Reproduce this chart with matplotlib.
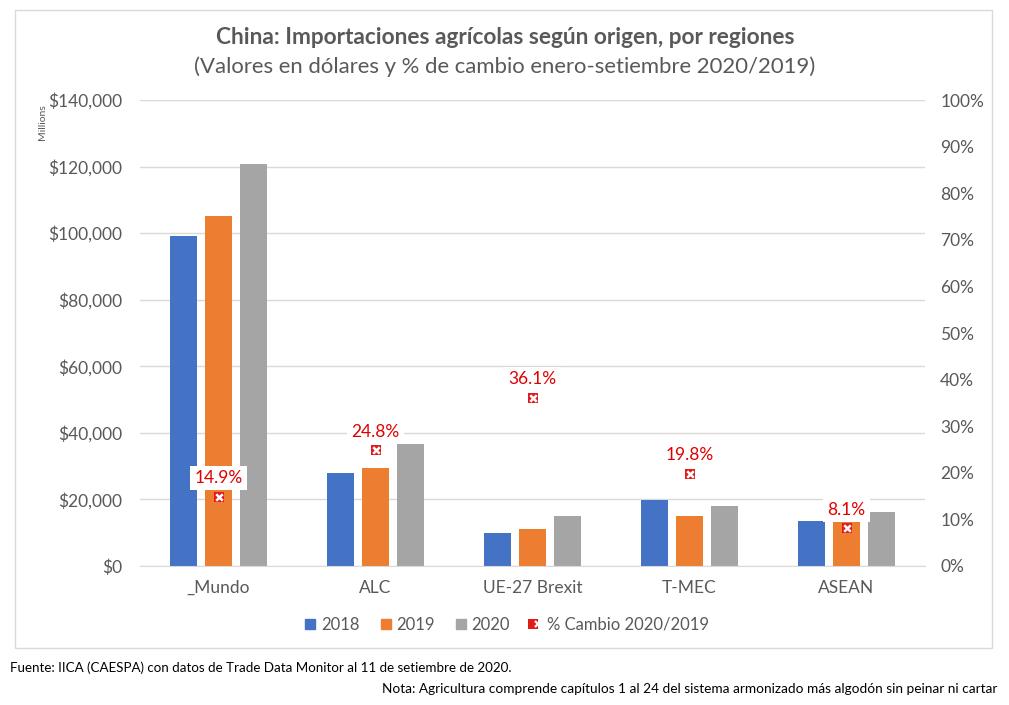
import matplotlib
matplotlib.use("Agg")
import matplotlib.pyplot as plt
import numpy as np
from matplotlib.lines import Line2D
from matplotlib.patches import Rectangle
from matplotlib.ticker import FuncFormatter, MultipleLocator
from matplotlib.legend_handler import HandlerTuple

plt.rcParams['font.family'] = ['Lato', 'DejaVu Sans']

categories = ["_Mundo", "ALC", "UE-27 Brexit", "T-MEC", "ASEAN"]
v2018 = [99200, 27900, 9900, 19800, 13500]
v2019 = [105100, 29300, 11000, 15000, 13500]
v2020 = [120800, 36600, 15000, 18000, 16200]
pct = [14.9, 24.8, 36.1, 19.8, 8.1]
years = ["2018", "2019", "2020"]
colors = ["#4472C4", "#ED7D31", "#A5A5A5"]

fig = plt.figure(figsize=(10.09, 7.05), dpi=100)
W, H = 1009, 705
# outer border
fig.add_artist(Rectangle((15/W, 1-648/H), (992-15)/W, (648-10)/H, transform=fig.transFigure,
                         fill=False, edgecolor="#D9D9D9", lw=1))

ax = fig.add_axes([140/W, 1-566/H, (925-140)/W, (566-100)/H])
ax2 = ax.twinx()
x = np.arange(len(categories))
bw = 0.172
off = 0.223
for i, (vals, c, lab) in enumerate(zip([v2018, v2019, v2020], colors, years)):
    ax.bar(x + (i-1)*off, vals, bw, color=c, label=lab, zorder=2)

ax.set_xlim(-0.5, len(categories)-0.5)
ax.set_ylim(0, 140000)
ax.yaxis.set_major_locator(MultipleLocator(20000))
ax.yaxis.set_major_formatter(FuncFormatter(lambda v, p: f"${v:,.0f}"))
ax.grid(axis='y', color="#D9D9D9", lw=1, zorder=0)
ax.set_axisbelow(True)
for s in ['top', 'right', 'left']:
    ax.spines[s].set_visible(False)
ax.spines['bottom'].set_color("#D9D9D9")
ax.set_xticks(x)
ax.set_xticklabels(categories)
ax.tick_params(axis='both', length=0, labelsize=12.5, colors="#595959")
ax.tick_params(axis='y', pad=13)
ax.tick_params(axis='x', pad=10)

ax2.set_ylim(0, 100)
ax2.yaxis.set_major_locator(MultipleLocator(10))
ax2.yaxis.set_major_formatter(FuncFormatter(lambda v, p: f"{v:.0f}%"))
for s in ['top', 'right', 'left', 'bottom']:
    ax2.spines[s].set_visible(False)
ax2.tick_params(axis='y', length=0, labelsize=12.5, colors="#595959", pad=11)

ax2.scatter(x, pct, marker='s', s=55, color="#E31A1C", zorder=5, linewidths=0)
ax2.scatter(x, pct, marker='x', s=22, color="white", zorder=6, linewidths=1.8)
for xi, p in zip(x, pct):
    ax2.annotate(f"{p:.1f}%", (xi, p), xytext=(0, 7.5), textcoords='offset points',
                 ha='center', va='bottom', color="#E00000", fontsize=12.5, zorder=7,
                 bbox=dict(boxstyle='square,pad=0.25', fc='white', ec='none'))

fig.text(42/W, 1-122/H, "Millions", rotation=90, ha='center', va='center', fontsize=7.5, color="#595959")

fig.text(505/W, 1-37/H, "China: Importaciones agrícolas según origen, por regiones",
         ha='center', va='center', fontsize=16.3, fontweight='bold', color="#595959")
fig.text(505/W, 1-67/H, "(Valores en dólares y % de cambio enero-setiembre 2020/2019)",
         ha='center', va='center', fontsize=15.9, color="#595959")

handles = [Rectangle((0, 0), 1, 1, color=c) for c in colors]
mk_sq = Line2D([], [], marker='s', ls='none', markersize=7.5, markerfacecolor="#E31A1C",
               markeredgewidth=0)
mk_x = Line2D([], [], marker='x', ls='none', markersize=4.5, markeredgecolor='white',
              markeredgewidth=1.6)
handles.append((mk_sq, mk_x))
labels = years + ["% Cambio 2020/2019"]
fig.legend(handles, labels, loc='center', bbox_to_anchor=(507/W, 1-625/H), ncol=4, frameon=False,
           fontsize=12, handlelength=0.6, handleheight=0.6, columnspacing=1.25, handletextpad=0.35,
           labelcolor="#595959", handler_map={tuple: HandlerTuple(ndivide=None, pad=0)})

fig.text(10/W, 1-668/H, "Fuente: IICA (CAESPA) con datos de Trade Data Monitor al 11 de setiembre de 2020.",
         ha='left', va='center', fontsize=9.6, color="black")
fig.text(997/W, 1-689/H, "Nota: Agricultura comprende capítulos 1 al 24 del sistema armonizado más algodón sin peinar ni cartar",
         ha='right', va='center', fontsize=9.8, color="black")

fig.savefig("out.png", dpi=100)
